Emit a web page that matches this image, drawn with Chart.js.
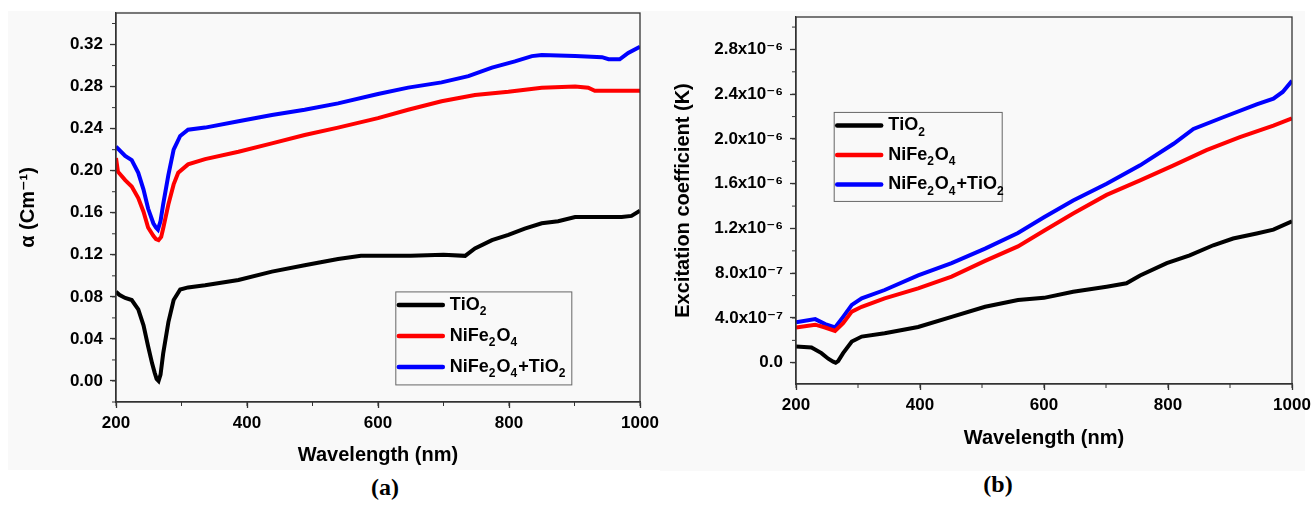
<!DOCTYPE html>
<html>
<head>
<meta charset="utf-8">
<script src="https://cdn.jsdelivr.net/npm/chart.js@4.4.1/dist/chart.umd.min.js"></script>
<style>
  body { margin: 0; background: #fff; width: 1311px; height: 505px; position: relative; overflow: hidden; }
  .panel { position: absolute; background: #f9f9f9; }
  #wrapA { left: 8px; top: 11px; width: 652px; height: 459px; }
  #wrapB { left: 660px; top: 11px; width: 645px; height: 460px; }
  .cap { position: absolute; width: 100px; text-align: center; font-family: "Liberation Serif", "Times New Roman", serif; font-weight: bold; font-size: 24px; color: #000; }
</style>
</head>
<body>
<div class="panel" id="wrapA"><canvas id="chartA" width="652" height="459"></canvas></div>
<div class="panel" id="wrapB"><canvas id="chartB" width="651" height="460"></canvas></div>
<div class="cap" style="left:335px; top:474px;">(a)</div>
<div class="cap" style="left:948px; top:471px;">(b)</div>
<script>
// Series names and colours
const names = ['TiO2', 'NiFe2O4', 'NiFe2O4+TiO2'];
const colors = ['#000000', '#ff0000', '#0000ff'];

// (a) absorption coefficient, wavelength in nm
const wlTiO2A = [200, 205, 214, 224, 234, 242, 249, 255, 259, 262, 265, 268, 272, 280, 288, 298, 310, 336, 387, 438, 488, 539, 574, 600, 650, 700, 733, 748, 774, 799, 824, 850, 875, 901, 951, 972, 987, 1000];
const alphaTiO2 = [0.085, 0.082, 0.079, 0.077, 0.068, 0.053, 0.033, 0.017, 0.008, 0.002, 0.0, 0.006, 0.026, 0.056, 0.077, 0.087, 0.089, 0.091, 0.096, 0.104, 0.110, 0.116, 0.119, 0.119, 0.119, 0.120, 0.119, 0.126, 0.134, 0.139, 0.145, 0.150, 0.152, 0.156, 0.156, 0.156, 0.157, 0.162];
const wlNiFeA = [200, 203, 214, 224, 234, 242, 249, 257, 261, 265, 269, 272, 280, 288, 295, 310, 336, 387, 438, 488, 539, 600, 646, 697, 748, 799, 850, 901, 921, 931, 960, 1000];
const alphaNiFe = [0.212, 0.199, 0.191, 0.185, 0.174, 0.161, 0.146, 0.138, 0.135, 0.134, 0.137, 0.145, 0.168, 0.187, 0.198, 0.206, 0.211, 0.218, 0.226, 0.234, 0.241, 0.250, 0.258, 0.266, 0.272, 0.275, 0.279, 0.280, 0.279, 0.276, 0.276, 0.276];
const wlMixA = [200, 214, 224, 234, 242, 249, 257, 261, 264, 268, 272, 280, 288, 298, 310, 336, 387, 438, 488, 539, 600, 646, 697, 738, 774, 809, 835, 850, 901, 942, 952, 969, 982, 1000];
const alphaMix = [0.223, 0.214, 0.210, 0.198, 0.182, 0.164, 0.150, 0.146, 0.144, 0.152, 0.168, 0.196, 0.220, 0.233, 0.239, 0.241, 0.247, 0.253, 0.258, 0.264, 0.273, 0.279, 0.284, 0.290, 0.298, 0.304, 0.309, 0.310, 0.309, 0.308, 0.306, 0.306, 0.312, 0.318];

// (b) excitation coefficient K
const wlTiO2B = [200, 225, 241, 252, 260, 264, 268, 276, 290, 306, 343, 397, 451, 505, 558, 600, 647, 701, 733, 755, 798, 835, 873, 905, 943, 970, 1000];
const kTiO2 = [1.45e-7, 1.36e-7, 8.6e-8, 3.6e-8, 1.0e-8, 0.0, 1.5e-8, 8.6e-8, 1.9e-7, 2.34e-7, 2.64e-7, 3.2e-7, 4.1e-7, 5.0e-7, 5.6e-7, 5.8e-7, 6.35e-7, 6.8e-7, 7.1e-7, 7.8e-7, 8.9e-7, 9.6e-7, 1.05e-6, 1.11e-6, 1.155e-6, 1.19e-6, 1.265e-6];
const wlNiFeB = [200, 231, 247, 263, 276, 290, 306, 343, 397, 451, 505, 558, 600, 647, 701, 755, 809, 862, 916, 970, 1000];
const kNiFe = [3.15e-7, 3.4e-7, 3.15e-7, 2.85e-7, 3.54e-7, 4.57e-7, 5.0e-7, 5.76e-7, 6.65e-7, 7.7e-7, 9.1e-7, 1.04e-6, 1.18e-6, 1.334e-6, 1.5e-6, 1.63e-6, 1.764e-6, 1.9e-6, 2.016e-6, 2.12e-6, 2.185e-6];
const wlMixB = [200, 231, 247, 263, 276, 290, 306, 343, 397, 451, 505, 558, 600, 647, 701, 755, 809, 841, 889, 943, 970, 985, 1000];
const kMix = [3.62e-7, 3.9e-7, 3.45e-7, 3.15e-7, 4.1e-7, 5.17e-7, 5.76e-7, 6.5e-7, 7.8e-7, 8.9e-7, 1.02e-6, 1.16e-6, 1.3e-6, 1.45e-6, 1.6e-6, 1.764e-6, 1.957e-6, 2.09e-6, 2.194e-6, 2.31e-6, 2.36e-6, 2.42e-6, 2.52e-6];

const fontFam = '"Liberation Sans", Arial, "DejaVu Sans", sans-serif';
const axisColor = '#333';

function pts(xs, ys) {
    return xs.map((x, i) => ({ x: x, y: ys[i] }));
}

function makeDatasets(series) {
    return series.map((s, i) => ({
        label: names[i],
        data: pts(s[0], s[1]),
        borderColor: colors[i],
        backgroundColor: colors[i],
        borderWidth: 4,
        pointRadius: 0,
        tension: 0,
        fill: false
    }));
}

// draws text where every digit becomes a subscript (chemical formulas)
function drawFormula(ctx, text, x, y, size) {
    for (const ch of text) {
        const sub = /\d/.test(ch);
        ctx.font = 'bold ' + (sub ? Math.round(size * 0.68) : size) + 'px ' + fontFam;
        ctx.fillText(ch, x, y + (sub ? size * 0.38 : 0));
        x += ctx.measureText(ch).width + (sub ? 1 : 0);
    }
}

// full frame, minor ticks and the boxed legend
const framePlugin = {
    id: 'framePlugin',
    afterDraw(chart, args, opts) {
        const { ctx, chartArea: a, scales } = chart;
        ctx.save();
        ctx.strokeStyle = axisColor;
        ctx.lineWidth = 1.3;
        ctx.strokeRect(a.left, a.top, a.right - a.left, a.bottom - a.top);

        // minor ticks
        const xs = scales.x, ys = scales.y;
        ctx.lineWidth = 1;
        for (let i = Math.ceil(xs.min / opts.xMinor); i * opts.xMinor <= xs.max + 1e-9; i++) {
            const px = xs.getPixelForValue(i * opts.xMinor);
            ctx.beginPath(); ctx.moveTo(px, a.bottom); ctx.lineTo(px, a.bottom + 4); ctx.stroke();
        }
        for (let i = Math.ceil(ys.min / opts.yMinor - 1e-6); i * opts.yMinor <= ys.max; i++) {
            const py = ys.getPixelForValue(i * opts.yMinor);
            ctx.beginPath(); ctx.moveTo(a.left, py); ctx.lineTo(a.left - 4, py); ctx.stroke();
        }

        // legend
        const L = opts.legend;
        const bx = a.left + L.x * (a.right - a.left);
        const by = a.top + L.y * (a.bottom - a.top);
        ctx.strokeStyle = '#666';
        ctx.lineWidth = 1;
        ctx.strokeRect(bx, by, L.w, L.h);
        ctx.textBaseline = 'middle';
        ctx.textAlign = 'left';
        chart.data.datasets.forEach((ds, i) => {
            const ry = by + L.first + i * L.step;
            ctx.strokeStyle = ds.borderColor;
            ctx.lineWidth = 4.5;
            ctx.lineCap = 'round';
            ctx.beginPath(); ctx.moveTo(bx + 3, ry); ctx.lineTo(bx + 47, ry); ctx.stroke();
            ctx.fillStyle = '#000';
            drawFormula(ctx, ds.label, bx + 54, ry, L.size);
        });
        ctx.restore();
    }
};

const superDigits = { '-': '⁻', '0': '⁰', '1': '¹', '2': '²', '3': '³', '4': '⁴', '5': '⁵', '6': '⁶', '7': '⁷', '8': '⁸', '9': '⁹' };
function sciLabel(v) {
    if (Math.abs(v) < 1e-12) return '0.0';
    const e = Math.floor(Math.log10(Math.abs(v)));
    const m = v / Math.pow(10, e);
    return m.toFixed(1) + 'x10' + String(e).split('').map(c => superDigits[c]).join('');
}

function makeOptions(cfg) {
    return {
        responsive: false,
        animation: false,
        layout: { padding: { left: 0, right: cfg.padRight, top: cfg.padTop, bottom: 0 } },
        plugins: {
            legend: { display: false },
            tooltip: { enabled: false },
            framePlugin: { xMinor: 100, yMinor: cfg.yMinor, legend: cfg.legend }
        },
        scales: {
            x: {
                type: 'linear',
                min: 200,
                max: 1000,
                ticks: { stepSize: 200, padding: 5, color: '#000', maxRotation: 0, font: { family: fontFam, size: 17, weight: 'bold' }, callback: v => String(v) },
                grid: { drawOnChartArea: false, tickLength: 6, color: axisColor, tickWidth: 1.3 },
                border: { color: axisColor, width: 1.3 },
                title: { display: true, text: 'Wavelength (nm)', color: '#000', font: { family: fontFam, size: 20, weight: 'bold' }, padding: { top: 0, bottom: cfg.xTitlePad } },
                afterFit: s => { s.height = cfg.xAxisH; s.paddingLeft = 0; s.paddingRight = 0; }
            },
            y: {
                type: 'linear',
                min: cfg.yMin,
                max: cfg.yMax,
                afterBuildTicks: s => {
                    s.ticks = s.ticks.filter(t => Math.abs(t.value / cfg.yStep - Math.round(t.value / cfg.yStep)) < 1e-6);
                },
                ticks: { stepSize: cfg.yStep, padding: 7, color: '#000', font: { family: fontFam, size: 17, weight: 'bold' }, callback: cfg.yFormat },
                grid: { drawOnChartArea: false, tickLength: 6, color: axisColor, tickWidth: 1.3 },
                border: { color: axisColor, width: 1.3 },
                title: { display: true, text: cfg.yTitle, color: '#000', font: { family: fontFam, size: 20, weight: 'bold' }, padding: { top: cfg.yTitlePad, bottom: 0 } },
                afterFit: s => { s.width = cfg.yAxisW; s.paddingTop = 0; s.paddingBottom = 0; }
            }
        }
    };
}

new Chart(document.getElementById('chartA'), {
    type: 'line',
    data: { datasets: makeDatasets([[wlTiO2A, alphaTiO2], [wlNiFeA, alphaNiFe], [wlMixA, alphaMix]]) },
    options: makeOptions({
        padRight: 20, padTop: 2, xAxisH: 68, yAxisW: 108, xTitlePad: 3, yTitlePad: 8,
        yMin: -0.02, yMax: 0.35, yStep: 0.04, yMinor: 0.02,
        yTitle: 'α (Cm⁻¹)',
        yFormat: v => v.toFixed(2),
        legend: { x: 0.534, y: 0.717, w: 176, h: 93, first: 13, step: 31, size: 18 }
    }),
    plugins: [framePlugin]
});

new Chart(document.getElementById('chartB'), {
    type: 'line',
    data: { datasets: makeDatasets([[wlTiO2B, kTiO2], [wlNiFeB, kNiFe], [wlMixB, kMix]]) },
    options: makeOptions({
        padRight: 19, padTop: 6, xAxisH: 87, yAxisW: 136, xTitlePad: 21, yTitlePad: 11,
        yMin: -1.9e-7, yMax: 3.09e-6, yStep: 4e-7, yMinor: 2e-7,
        yTitle: 'Excitation coefficient (K)',
        yFormat: v => sciLabel(v),
        legend: { x: 0.077, y: 0.26, w: 168, h: 89, first: 13, step: 29.5, size: 18 }
    }),
    plugins: [framePlugin]
});
</script>
</body>
</html>
